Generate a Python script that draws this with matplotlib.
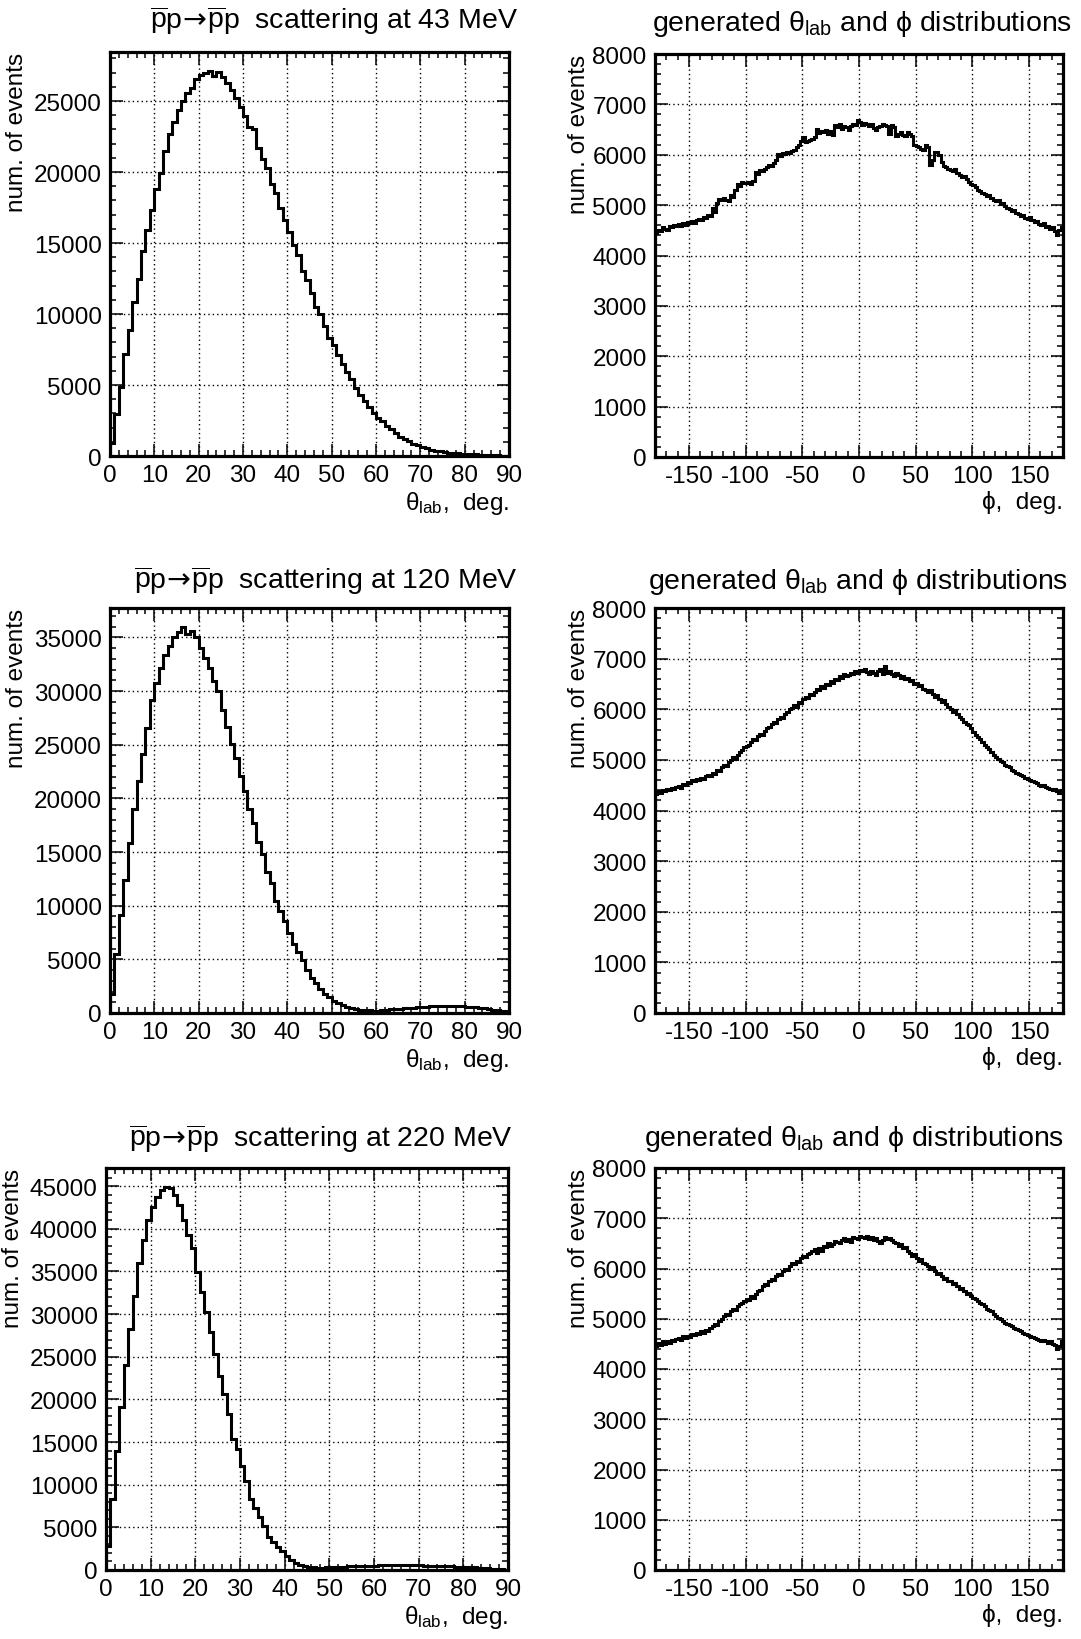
import numpy as np
import matplotlib
matplotlib.use("Agg")
from matplotlib import pyplot as plt
from matplotlib.ticker import MultipleLocator

plt.rcParams['font.family'] = ['Liberation Sans', 'DejaVu Sans']
plt.rcParams['mathtext.fontset'] = 'custom'
plt.rcParams['mathtext.rm'] = 'Liberation Sans'
plt.rcParams['mathtext.it'] = 'Liberation Sans:italic'
plt.rcParams['mathtext.sf'] = 'DejaVu Sans'
plt.rcParams['axes.unicode_minus'] = False

# theta_lab histograms, 1 deg bins from 0 to 90
theta_43 = [900, 2980, 4850, 7150, 8850, 10850, 12500, 14450, 15950, 17350,
            18800, 19950, 21500, 22650, 23500, 24400, 25000, 25600, 25900, 26550,
            26800, 27000, 27100, 26750, 27050, 26700, 26250, 25750, 25200, 24600,
            23950, 23200, 23050, 21700, 20950, 20250, 19150, 18500, 17500, 16600,
            15750, 14850, 14150, 13000, 12400, 11450, 10500, 10000, 9150, 8280,
            7800, 7130, 6470, 5950, 5400, 4780, 4300, 3870, 3470, 3060,
            2690, 2490, 2140, 1870, 1600, 1360, 1210, 1030, 860, 740,
            620, 530, 450, 380, 320, 270, 240, 220, 190, 170,
            150, 130, 110, 95, 80, 65, 50, 40, 30, 20]

theta_120 = [1810, 5470, 9160, 12440, 15880, 19060, 21590, 24160, 26560, 29160,
             30720, 32190, 33380, 34160, 35090, 35470, 35950, 35340, 35560, 35090,
             34000, 33060, 32130, 30970, 30000, 28220, 26660, 25090, 23750, 22130,
             20720, 19000, 17750, 15940, 14780, 13130, 12130, 10470, 9470, 8530,
             7440, 6440, 5720, 4900, 4050, 3250, 2750, 2270, 1790, 1460,
             1140, 910, 715, 550, 450, 390, 320, 290, 260, 230,
             230, 260, 290, 330, 360, 400, 430, 460, 490, 520,
             550, 590, 620, 650, 680, 690, 680, 660, 640, 620,
             590, 560, 520, 470, 420, 370, 320, 260, 200, 150]

theta_220 = [2850, 8330, 14000, 19080, 24050, 28270, 32100, 36010, 38710, 40980,
             42620, 43710, 44570, 44890, 44770, 43990, 42740, 40980, 39300, 37730,
             34990, 32570, 30220, 27880, 25340, 22800, 20640, 18300, 15370, 14190,
             12240, 10480, 8330, 7230, 6180, 5120, 3830, 3250, 2740, 2270,
             1600, 1150, 850, 620, 460, 360, 300, 280, 280, 310,
             330, 360, 380, 400, 420, 440, 460, 480, 500, 510,
             520, 530, 540, 550, 540, 550, 560, 560, 550, 540,
             530, 520, 500, 490, 480, 460, 440, 420, 400, 380,
             360, 330, 300, 260, 220, 180, 140, 100, 60, 40]

# phi histograms, 2 deg bins from -180 to 180
phi_43 = [4450, 4500, 4480, 4560, 4520, 4500, 4580, 4560, 4600, 4590,
          4620, 4580, 4640, 4610, 4660, 4640, 4690, 4650, 4700, 4720,
          4700, 4760, 4740, 4800, 4780, 4950, 4870, 5050, 5120, 5100,
          5150, 5100, 5080, 5200, 5160, 5300, 5420, 5380, 5460, 5440,
          5430, 5450, 5420, 5480, 5650, 5620, 5700, 5680, 5720, 5760,
          5800, 5780, 5830, 5900, 6020, 5980, 6040, 6010, 6060, 6030,
          6080, 6100, 6150, 6200, 6270, 6350, 6250, 6280, 6300, 6320,
          6350, 6520, 6430, 6480, 6450, 6500, 6420, 6480, 6390, 6600,
          6550, 6620, 6520, 6580, 6560, 6500, 6580, 6620, 6600, 6680,
          6650, 6600, 6640, 6620, 6580, 6610, 6540, 6500, 6560, 6580,
          6620, 6600, 6580, 6420, 6600, 6560, 6380, 6420, 6450, 6400,
          6380, 6450, 6420, 6380, 6200, 6180, 6160, 6120, 6100, 6200,
          6150, 5800, 5900, 6050, 6060, 6000, 5850, 5780, 5750, 5720,
          5700, 5680, 5720, 5640, 5600, 5560, 5580, 5520, 5450, 5420,
          5400, 5350, 5300, 5280, 5250, 5220, 5180, 5200, 5150, 5100,
          5080, 5100, 5020, 5050, 4980, 4950, 4920, 4880, 4900, 4850,
          4820, 4780, 4800, 4740, 4720, 4760, 4700, 4660, 4680, 4620,
          4600, 4640, 4560, 4580, 4520, 4560, 4480, 4400, 4500, 4560]

phi_120 = [4320, 4380, 4350, 4400, 4380, 4420, 4400, 4450, 4430, 4460,
           4480, 4450, 4520, 4500, 4560, 4540, 4600, 4580, 4620, 4600,
           4650, 4620, 4680, 4700, 4680, 4750, 4720, 4800, 4780, 4850,
           4900, 4880, 4950, 5000, 5050, 5020, 5100, 5150, 5200, 5250,
           5280, 5300, 5350, 5420, 5400, 5480, 5520, 5500, 5580, 5620,
           5650, 5700, 5750, 5720, 5800, 5850, 5820, 5900, 5950, 6000,
           6020, 6080, 6050, 6150, 6120, 6200, 6250, 6220, 6300, 6280,
           6350, 6400, 6380, 6450, 6420, 6500, 6480, 6550, 6520, 6600,
           6580, 6650, 6620, 6700, 6650, 6680, 6720, 6700, 6750, 6720,
           6780, 6750, 6800, 6740, 6700, 6760, 6720, 6680, 6750, 6800,
           6700, 6850, 6720, 6760, 6700, 6650, 6720, 6680, 6620, 6650,
           6600, 6620, 6550, 6580, 6500, 6520, 6450, 6480, 6400, 6380,
           6350, 6380, 6300, 6250, 6280, 6200, 6150, 6180, 6100, 6050,
           6000, 5950, 5980, 5900, 5850, 5800, 5750, 5700, 5680, 5620,
           5550, 5500, 5450, 5420, 5350, 5300, 5250, 5220, 5150, 5100,
           5050, 5020, 4980, 4950, 4900, 4880, 4850, 4800, 4780, 4750,
           4720, 4700, 4680, 4650, 4620, 4600, 4580, 4560, 4540, 4500,
           4480, 4500, 4460, 4450, 4420, 4400, 4420, 4380, 4350, 4400]

phi_220 = [4450, 4520, 4480, 4550, 4500, 4560, 4520, 4580, 4560, 4600,
           4620, 4580, 4650, 4620, 4660, 4640, 4700, 4680, 4720, 4700,
           4750, 4720, 4780, 4760, 4820, 4850, 4900, 4880, 4950, 5000,
           5050, 5100, 5080, 5150, 5200, 5180, 5250, 5300, 5320, 5350,
           5400, 5380, 5450, 5420, 5500, 5550, 5580, 5650, 5700, 5680,
           5750, 5800, 5780, 5850, 5900, 5880, 5950, 6000, 5980, 6050,
           6100, 6080, 6150, 6120, 6200, 6250, 6220, 6280, 6300, 6350,
           6380, 6300, 6400, 6350, 6450, 6420, 6500, 6450, 6480, 6550,
           6520, 6500, 6560, 6600, 6550, 6580, 6520, 6620, 6600, 6580,
           6650, 6620, 6600, 6640, 6580, 6620, 6560, 6600, 6540, 6500,
           6560, 6620, 6580, 6600, 6560, 6520, 6500, 6450, 6480, 6400,
           6420, 6350, 6300, 6250, 6280, 6200, 6150, 6180, 6100, 6080,
           6050, 6000, 6020, 5950, 5900, 5920, 5850, 5800, 5820, 5750,
           5750, 5700, 5720, 5650, 5600, 5620, 5550, 5500, 5520, 5450,
           5420, 5400, 5350, 5320, 5300, 5250, 5200, 5180, 5150, 5100,
           5050, 5020, 5000, 4950, 4920, 4900, 4880, 4850, 4820, 4800,
           4780, 4750, 4720, 4700, 4680, 4650, 4640, 4620, 4600, 4580,
           4560, 4580, 4550, 4520, 4560, 4500, 4480, 4400, 4450, 4550]

energies = ["43", "120", "220"]
theta_sets = [theta_43, theta_120, theta_220]
phi_sets = [phi_43, phi_120, phi_220]

W, H = 1081, 1640
fig = plt.figure(figsize=(W / 100, H / 100), dpi=100)

# axes boxes in pixels: left, top, right, bottom
left_boxes = [(110, 53, 509, 457), (110, 609, 509, 1014), (106, 1169, 508, 1571)]
right_boxes = [(655, 55, 1063, 458), (655, 609, 1063, 1014), (655, 1169, 1063, 1571)]
# title anchor (right end x, baseline y) in pixels
left_titles = [(518, 29), (518, 589), (513, 1147)]
right_titles = [(1072, 31), (1068, 589), (1064, 1146)]

FS = 17.5
TFS = 20.5


def make_ax(box):
    l, t, r, b = box
    ax = fig.add_axes([l / W, 1 - b / H, (r - l) / W, (b - t) / H])
    for s in ax.spines.values():
        s.set_linewidth(2.3)
    ax.tick_params(which='both', direction='in', top=True, right=True,
                   labelsize=FS, width=1.1, pad=6)
    ax.tick_params(which='major', length=9)
    ax.tick_params(which='minor', length=4.5)
    ax.grid(True, which='major', color='black', linestyle=(0, (1, 2.2)), linewidth=1.0)
    ax.set_axisbelow(True)
    return ax


def title_at(pos, text):
    x, y = pos
    fig.text(x / W, 1 - y / H, text, ha='right', va='baseline', fontsize=TFS)


for i in range(3):
    # theta_lab panel
    ax = make_ax(left_boxes[i])
    vals = np.array(theta_sets[i])
    edges = np.arange(len(vals) + 1)
    ax.stairs(vals, edges, color='black', linewidth=2.2, baseline=0)
    ax.set_xlim(0, 90)
    ax.set_ylim(0, 1.05 * vals.max())
    ax.xaxis.set_major_locator(MultipleLocator(10))
    ax.xaxis.set_minor_locator(MultipleLocator(2))
    ax.yaxis.set_major_locator(MultipleLocator(5000))
    ax.yaxis.set_minor_locator(MultipleLocator(1000))
    title_at(left_titles[i],
             r'$\overline{\mathrm{p}}\mathrm{p}\!\mathsf{\rightarrow}\!\overline{\mathrm{p}}\mathrm{p}$'
             '  scattering at ' + energies[i] + ' MeV')
    ax.set_xlabel(r'θ$_{\mathrm{lab}}$,  deg.', loc='right', fontsize=FS, labelpad=2)
    ax.set_ylabel('num. of events', loc='top', fontsize=FS, labelpad=4)

    # phi panel
    ax = make_ax(right_boxes[i])
    vals = np.array(phi_sets[i])
    edges = np.linspace(-180, 180, len(vals) + 1)
    ax.stairs(vals, edges, color='black', linewidth=2.2, baseline=0)
    ax.set_xlim(-180, 180)
    ax.set_ylim(0, 8000)
    ax.xaxis.set_major_locator(MultipleLocator(50))
    ax.xaxis.set_minor_locator(MultipleLocator(10))
    ax.yaxis.set_major_locator(MultipleLocator(1000))
    ax.yaxis.set_minor_locator(MultipleLocator(200))
    title_at(right_titles[i], r'generated θ$_{\mathrm{lab}}$ and ϕ distributions')
    ax.set_xlabel('ϕ,  deg.', loc='right', fontsize=FS, labelpad=2)
    ax.set_ylabel('num. of events', loc='top', fontsize=FS, labelpad=2)

fig.savefig('out.png', dpi=100)
